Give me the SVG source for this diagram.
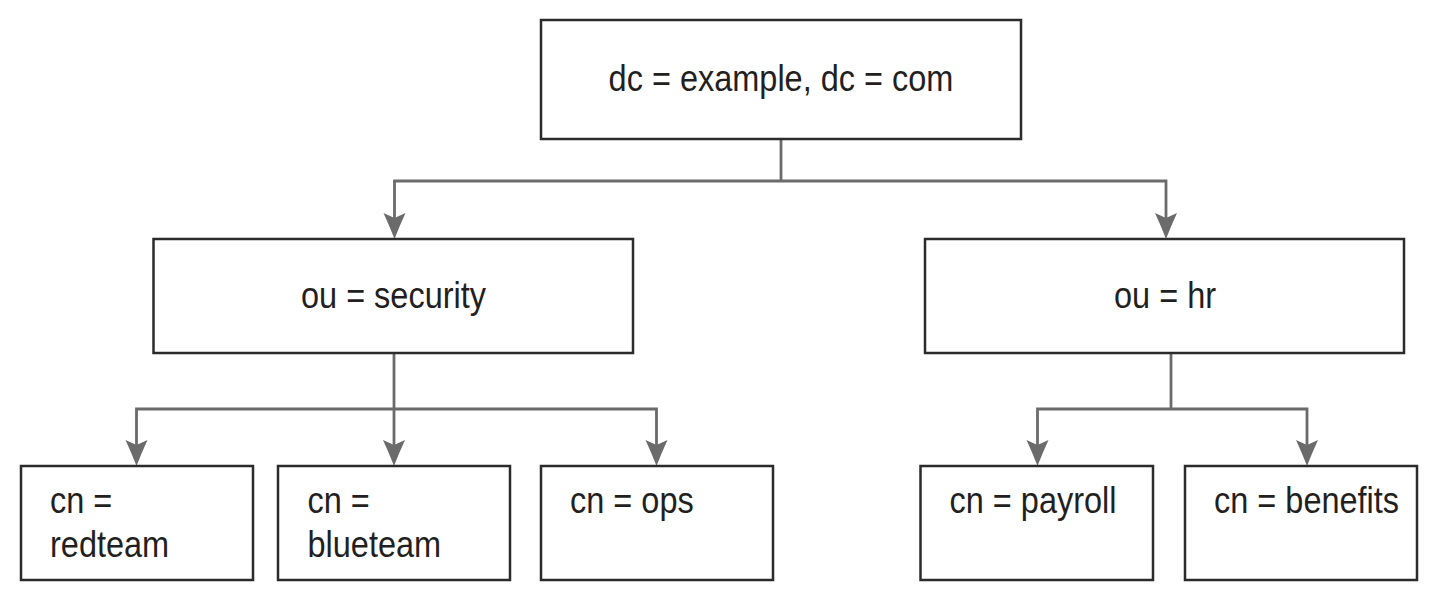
<svg xmlns="http://www.w3.org/2000/svg" width="1436" height="604" viewBox="0 0 1436 604">
<style>
.box{fill:#fff;stroke:#2b2b2b;stroke-width:2.5}
.lbl{font-family:"Liberation Sans",Arial,sans-serif;font-size:32.5px;fill:#231f20}
.mid{text-anchor:middle}
.conn{fill:none;stroke:#6b6b6b;stroke-width:2.8}
</style>
<defs>
<marker id="arr" markerUnits="userSpaceOnUse" markerWidth="30" markerHeight="26" viewBox="0 -13 28 26" refX="16" refY="0" orient="auto">
<path d="M26,0 Q13,-5 0,-11 L5,0 L0,11 Q13,5 26,0 Z" fill="#6b6b6b"/>
</marker>
</defs>
<rect width="1436" height="604" fill="#fff"/>
<g id="connectors">
<path class="conn" d="M781,139 V181"/>
<path class="conn" d="M781,181 H394.5 V229" marker-end="url(#arr)"/>
<path class="conn" d="M781,181 H1166 V229" marker-end="url(#arr)"/>
<path class="conn" d="M394,353 V456" marker-end="url(#arr)"/>
<path class="conn" d="M394,409 H136.5 V456" marker-end="url(#arr)"/>
<path class="conn" d="M394,409 H656.5 V456" marker-end="url(#arr)"/>
<path class="conn" d="M1171,353 V409"/>
<path class="conn" d="M1171,409 H1037.5 V456" marker-end="url(#arr)"/>
<path class="conn" d="M1171,409 H1307 V456" marker-end="url(#arr)"/>
</g>
<g id="node-root">
<rect class="box" x="541" y="20" width="480" height="119"/>
<text class="lbl mid" transform="translate(781,91) scale(1,1.13)">dc = example, dc = com</text>
</g>
<g id="node-security">
<rect class="box" x="153.5" y="239" width="479.5" height="114"/>
<text class="lbl mid" transform="translate(393.5,308) scale(1,1.13)">ou = security</text>
</g>
<g id="node-hr">
<rect class="box" x="925" y="239" width="479" height="114"/>
<text class="lbl mid" transform="translate(1165,308) scale(1,1.13)">ou = hr</text>
</g>
<g id="node-redteam">
<rect class="box" x="21" y="466" width="232" height="114"/>
<text class="lbl" transform="translate(50,512.5) scale(1,1.13)">cn =</text>
<text class="lbl" transform="translate(50,556.5) scale(1,1.13)">redteam</text>
</g>
<g id="node-blueteam">
<rect class="box" x="278" y="466" width="232" height="114"/>
<text class="lbl" transform="translate(307.5,512.5) scale(1,1.13)">cn =</text>
<text class="lbl" transform="translate(307.5,556.5) scale(1,1.13)">blueteam</text>
</g>
<g id="node-ops">
<rect class="box" x="541" y="466" width="232" height="114"/>
<text class="lbl" transform="translate(570,512.5) scale(1,1.13)">cn = ops</text>
</g>
<g id="node-payroll">
<rect class="box" x="920.5" y="466" width="232.5" height="114"/>
<text class="lbl" transform="translate(949.5,512.5) scale(1,1.13)">cn = payroll</text>
</g>
<g id="node-benefits">
<rect class="box" x="1185" y="466" width="232" height="114"/>
<text class="lbl" transform="translate(1214,512.5) scale(1,1.13)">cn = benefits</text>
</g>
</svg>
